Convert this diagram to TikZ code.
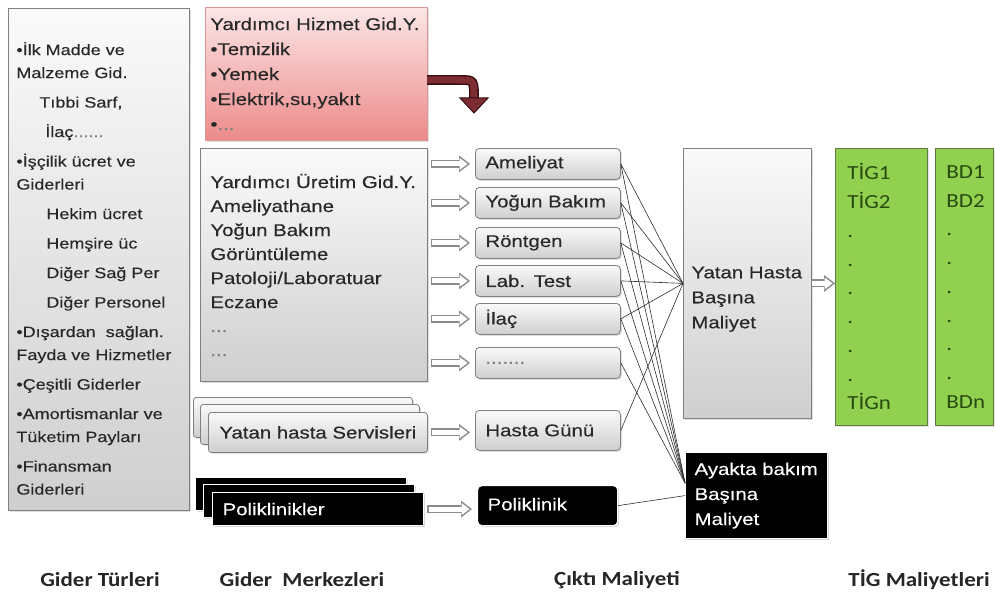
\documentclass[tikz,border=0pt]{standalone}
\usepackage{fontspec}
\setmainfont[FakeStretch=1.2,FakeBold=0.25]{Liberation Sans}
\newfontfamily\calib[FakeStretch=1.15]{Carlito}
\usetikzlibrary{arrows.meta}
\usetikzlibrary{shadows}

\definecolor{boxline}{RGB}{128,128,128}
\definecolor{txt}{RGB}{40,40,40}
\definecolor{pinktop}{RGB}{252,230,230}
\definecolor{pinkbot}{RGB}{236,138,138}
\definecolor{pinkline}{RGB}{220,150,150}
\definecolor{leaf}{RGB}{146,208,80}
\definecolor{leafline}{RGB}{95,120,70}
\definecolor{leaftext}{RGB}{40,75,18}
\definecolor{wine}{RGB}{125,45,50}
\definecolor{wineout}{RGB}{55,15,20}

\tikzset{
  shade box/.style={draw=boxline, line width=0.8pt, top color=gray!4, bottom color=gray!38,
    drop shadow={opacity=.25, shadow xshift=1.5pt, shadow yshift=-1.5pt},
    text=txt, anchor=north west, align=left, inner ysep=0pt},
  out box/.style={shade box, rounded corners=4pt, text width=125pt, inner xsep=10pt,
    minimum height=31pt, font=\fontsize{17}{20}\selectfont},
  dark box/.style={draw=white, line width=1.2pt, fill=black, text=white, anchor=north west,
    align=left, inner ysep=0pt, font=\fontsize{17}{25}\selectfont,
    drop shadow={opacity=.3, shadow xshift=1.5pt, shadow yshift=-1.5pt}},
  stack/.style={shade box, rounded corners=3pt, text width=197pt, inner xsep=11pt,
    minimum height=40pt, font=\fontsize{17}{20}\selectfont},
  pstack/.style={dark box, text width=191pt, inner xsep=10pt, minimum height=33pt},
  leaf box/.style={draw=leafline, line width=0.8pt, fill=leaf, text=leaftext, anchor=north west,
    align=left, inner ysep=0pt, minimum height=277pt, font=\calib\fontsize{20}{28.75}\selectfont,
    drop shadow={opacity=.2, shadow xshift=1.5pt, shadow yshift=-1.5pt}},
  link/.style={gray!35!black, line width=0.6pt},
  hollow/.style={line width=8pt, black!45, shorten <=3pt, shorten >=5pt,
    -{Triangle[length=11pt,width=17pt,line width=0pt]}},
  hollow in/.style={line width=5pt, white, shorten <=4.5pt, shorten >=7.4pt,
    -{Triangle[length=8pt,width=12pt,line width=0pt]}},
  foot/.style={font=\calib\bfseries\fontsize{20}{22}\selectfont, text=black!85}
}

\begin{document}
\begin{tikzpicture}[x=1pt,y=-1pt]
\useasboundingbox (0,0) rectangle (995,599);
\fill[white] (0,0) rectangle (995,599);

% gider turleri
\node[shade box, text width=165pt, inner xsep=8pt, minimum height=502pt, text height=31pt,
  font=\fontsize{15}{23}\selectfont] (gt) at (8,8) {%
•İlk Madde ve\\
Malzeme Gid.\\[6.5pt]
\hspace*{23pt}Tıbbi Sarf,\\[6.5pt]
\hspace*{29pt}İlaç\textcolor{gray}{......}\\[6.5pt]
•İşçilik ücret ve\\
Giderleri\\[6.5pt]
\hspace*{30pt}Hekim ücret\\[6.5pt]
\hspace*{30pt}Hemşire üc\\[6.5pt]
\hspace*{30pt}Diğer Sağ Per\\[6.5pt]
\hspace*{30pt}Diğer Personel\\[6.5pt]
•Dışardan\ \ sağlan.\\
Fayda ve Hizmetler\\[6.5pt]
•Çeşitli Giderler\\[6.5pt]
•Amortismanlar ve\\
Tüketim Payları\\[6.5pt]
•Finansman\\
Giderleri};

% gider merkezleri
\node[shade box, top color=pinktop, bottom color=pinkbot, draw=pinkline, text width=212pt,
  inner xsep=5pt, minimum height=133pt, font=\fontsize{17}{25}\selectfont] (hiz) at (205,7)
  {Yardımcı Hizmet Gid.Y.\\•Temizlik\\•Yemek\\•Elektrik,su,yakıt\\•\textcolor{gray}{...}};
\node[shade box, text width=207pt, inner xsep=10pt, minimum height=233pt,
  font=\fontsize{17}{24}\selectfont] (ur) at (200,148)
  {Yardımcı Üretim Gid.Y.\\Ameliyathane\\Yoğun Bakım\\Görüntüleme\\Patoloji/Laboratuar\\Eczane\\
   \textcolor{gray}{...}\\\textcolor{gray}{...}};
\node[stack] (hs3) at (193,397) {};
\node[stack] (hs2) at (200,404) {};
\node[stack] (hs) at (208,412) {Yatan hasta Servisleri};
\node[pstack] (pk3) at (195,477) {};
\node[pstack] (pk2) at (203,484) {};
\node[pstack] (pk) at (212,492) {Poliklinikler};

% ciktilar
\foreach \n/\y/\t in {am/148/Ameliyat, yb/187/Yoğun Bakım, rt/227/Röntgen, lb/265/Lab. Test,
  il/303/İlaç, dt/347/{\textcolor{gray}{.......}}}
  \node[out box] (\n) at (475,\y) {\t};
\node[out box, minimum height=40pt] (hg) at (475,410) {Hasta Günü};
\node[dark box, rounded corners=4pt, text width=120pt, inner xsep=10pt, minimum height=40pt]
  (pc) at (477,485) {\raisebox{3pt}{Poliklinik}};

% maliyetler
\node[shade box, text width=112pt, inner xsep=8pt, minimum height=270pt, text depth=22pt,
  font=\fontsize{17}{25}\selectfont] (yat) at (683,148) {\mbox{Yatan Hasta}\\Başına\\Maliyet};
\node[dark box, text width=124pt, inner xsep=9pt, minimum height=86pt] (ayk) at (685,452)
  {Ayakta bakım\\Başına\\Maliyet};
\node[leaf box, text width=68pt, inner xsep=12pt] (tig) at (835,148)
  {TİG1\\TİG2\\.\\.\\.\\.\\.\\.\\TİGn};
\node[leaf box, text width=36pt, inner xsep=11pt] (bd) at (935,148)
  {BD1\\BD2\\.\\.\\.\\.\\.\\.\\BDn};

% baglantilar
\foreach \n in {am,yb,rt,lb,il} {
  \draw[link] (\n.east) -- (yat.west);
  \draw[link] (\n.east) -- (ayk.170);
}
\draw[link] (dt.east) -- (ayk.170);
\draw[link] (hg.east) -- (yat.west);
\draw[link] (pc.east) -- (ayk.west);

% oklar
\foreach \n in {am,yb,rt,lb,il,dt} {
  \draw[hollow] (ur.east |- \n.west) -- (\n.west);
  \draw[hollow in] (ur.east |- \n.west) -- (\n.west);
}
\draw[hollow] (hs.east) -- (hs.east -| hg.west);
\draw[hollow in] (hs.east) -- (hs.east -| hg.west);
\draw[hollow] (pk.east) -- (pk.east -| pc.west);
\draw[hollow in] (pk.east) -- (pk.east -| pc.west);
\draw[hollow, shorten <=0pt, shorten >=0pt] (yat.east) -- (yat.east -| tig.west);
\draw[hollow in, shorten <=0pt, shorten >=2.4pt] (yat.east) -- (yat.east -| tig.west);

% kirmizi ok
\coordinate (cs) at (427,80);
\coordinate (ce) at (474,100);
\draw[draw=wineout, double=wine, double distance=7pt, line width=1.4pt]
  (cs) -- (461,80) .. controls (474,80) .. (ce);
\filldraw[draw=wineout, fill=wine, line width=1pt] (460,98) -- (488,98) -- (474,113) -- cycle;

% basliklar
\node[foot] (f1) at (100,580) {Gider Türleri};
\node[foot] (f2) at (302,580) {Gider\ \ Merkezleri};
\node[foot] (f3) at (617,580) {Çıktı Maliyeti};
\node[foot] (f4) at (919,580) {TİG Maliyetleri};
\end{tikzpicture}
\end{document}
